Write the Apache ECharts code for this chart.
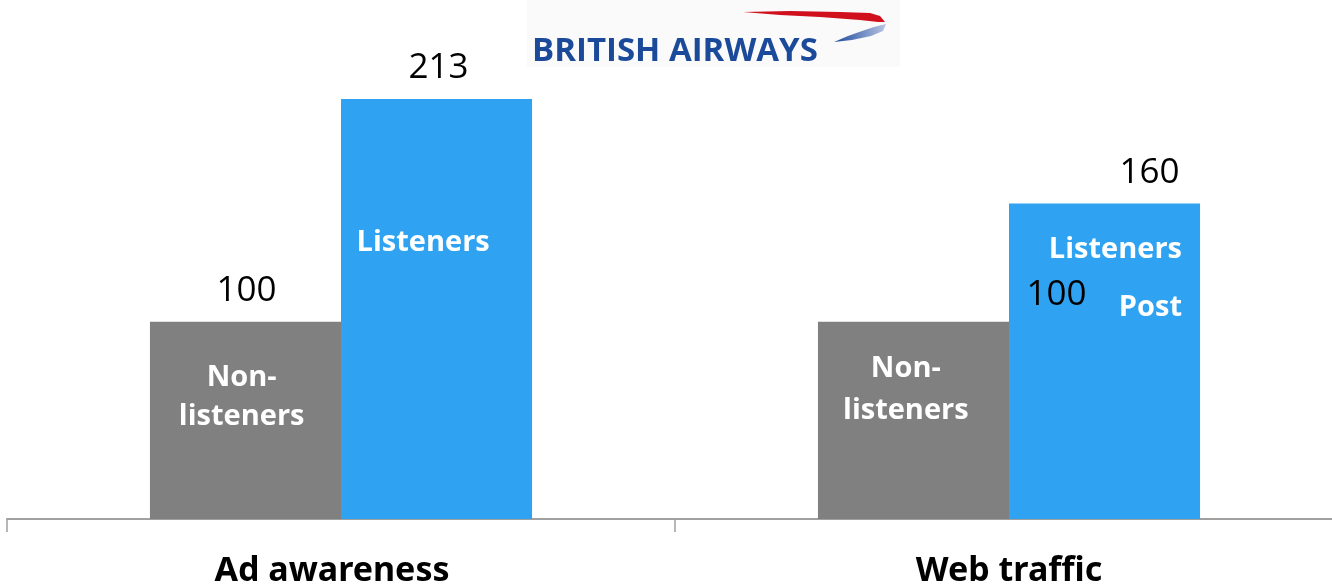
<!DOCTYPE html>
<html>
<head>
<meta charset="utf-8">
<script src="https://cdn.jsdelivr.net/npm/echarts@6/dist/echarts.min.js"></script>
<style>html,body{margin:0;padding:0;background:#fff}#c{width:1332px;height:588px}</style>
</head>
<body>
<div id="c"></div>
<script>
const categories = ['Ad awareness', 'Web traffic'];
const nonListeners = [100, 100];
const listeners = [213, 160];
const nonListenerNames = ['Non-\nlisteners', 'Non-\nlisteners'];
const listenerNames = ['Listeners', 'Listeners\nPost'];
const logoText = 'BRITISH AIRWAYS';

const GRAY = '#808080';
const BLUE = '#2fa3f1';
const FONT = '"Open Sans", "Noto Sans", sans-serif';

const innerBase = {show: true, color: '#fff', fontFamily: FONT, fontWeight: 'bold', fontSize: 29, lineHeight: 40, align: 'center', verticalAlign: 'middle'};
const nonInnerPos = [[ '48%', 75 ], [ '46%', 68 ]];
const nonInnerLH = [39, 42];
const lisInnerCfg = [
  {position: ['43%', 144], align: 'center', lineHeight: 40},
  {position: [173, 75], align: 'right', lineHeight: 58}
];
const valBase = {show: true, position: 'top', distance: 13, color: '#000', fontFamily: FONT, fontSize: 35, fontWeight: 'normal'};
const nonValOffset = [[1, 0], [143, 4]];
const lisValOffset = [[2, 0], [45, 0]];
const catLabelPad = [[0, 18, 0, 0], [0, 0, 0, 0]];

const chart = echarts.init(document.getElementById('c'));
chart.setOption({
  animation: false,
  grid: {left: 7, right: -11, top: 26, bottom: 69, containLabel: false, outerBoundsMode: 'none'},
  xAxis: {
    type: 'category', data: categories,
    axisLine: {lineStyle: {color: '#a0a0a0', width: 2}},
    axisTick: {show: true, length: 13, lineStyle: {color: '#a0a0a0', width: 1.5}},
    axisLabel: {
      color: '#000', fontFamily: '"Noto Sans", sans-serif', fontWeight: 'bold', fontSize: 34, margin: 35,
      formatter: (v, i) => '{c' + i + '|' + v + '}',
      rich: {
        c0: {fontFamily: '"Noto Sans", sans-serif', fontWeight: 'bold', fontSize: 34, color: '#000', padding: catLabelPad[0]},
        c1: {fontFamily: '"Noto Sans", sans-serif', fontWeight: 'bold', fontSize: 34, color: '#000', padding: catLabelPad[1]}
      }
    }
  },
  yAxis: {type: 'value', min: 0, max: 250, show: false, splitLine: {show: false}},
  graphic: [
    {type: 'rect', left: 527, top: 0, shape: {width: 373, height: 67}, style: {fill: '#fafafa'}, silent: true},
    {type: 'text', left: 532, top: 35, style: {text: logoText, fill: '#1c4a9b', font: 'bold 33px "Open Sans", sans-serif'}},
    {type: 'polygon', shape: {points: [[743,12],[790,11],[840,12],[870,13],[880,16],[885,22],[878,22],[860,20],[820,17],[780,15]]}, style: {fill: '#d0101d'}},
    {type: 'polygon', shape: {points: [[886,24],[883,31],[871,36],[852,40],[834,42],[848,36],[862,31],[874,27]]},
      style: {fill: new echarts.graphic.LinearGradient(0, 0, 1, 0, [{offset: 0, color: '#1c4a9b'}, {offset: 1, color: '#b8c4e4'}])}}
  ],
  series: [
    {
      name: 'Non-listeners', type: 'bar', stack: 'g', barWidth: '28.6%', barGap: '0%',
      itemStyle: {color: GRAY},
      data: nonListeners.map((v, i) => ({value: v, label: Object.assign({}, innerBase, {position: nonInnerPos[i], lineHeight: nonInnerLH[i], formatter: nonListenerNames[i]})}))
    },
    {
      name: 'Non-listeners value', type: 'bar', stack: 'g', barWidth: '28.6%', barGap: '0%',
      itemStyle: {color: 'rgba(0,0,0,0)'},
      data: nonListeners.map((v, i) => ({value: 0, label: Object.assign({}, valBase, {offset: nonValOffset[i], formatter: String(nonListeners[i])})}))
    },
    {
      name: 'Listeners', type: 'bar', stack: 'b', barWidth: '28.6%', barGap: '0%',
      itemStyle: {color: BLUE},
      data: listeners.map((v, i) => ({value: v, label: Object.assign({}, innerBase, lisInnerCfg[i], {formatter: listenerNames[i]})}))
    },
    {
      name: 'Listeners value', type: 'bar', stack: 'b', barWidth: '28.6%', barGap: '0%',
      itemStyle: {color: 'rgba(0,0,0,0)'},
      data: listeners.map((v, i) => ({value: 0, label: Object.assign({}, valBase, {offset: lisValOffset[i], formatter: String(listeners[i])})}))
    }
  ]
});
</script>
</body>
</html>
